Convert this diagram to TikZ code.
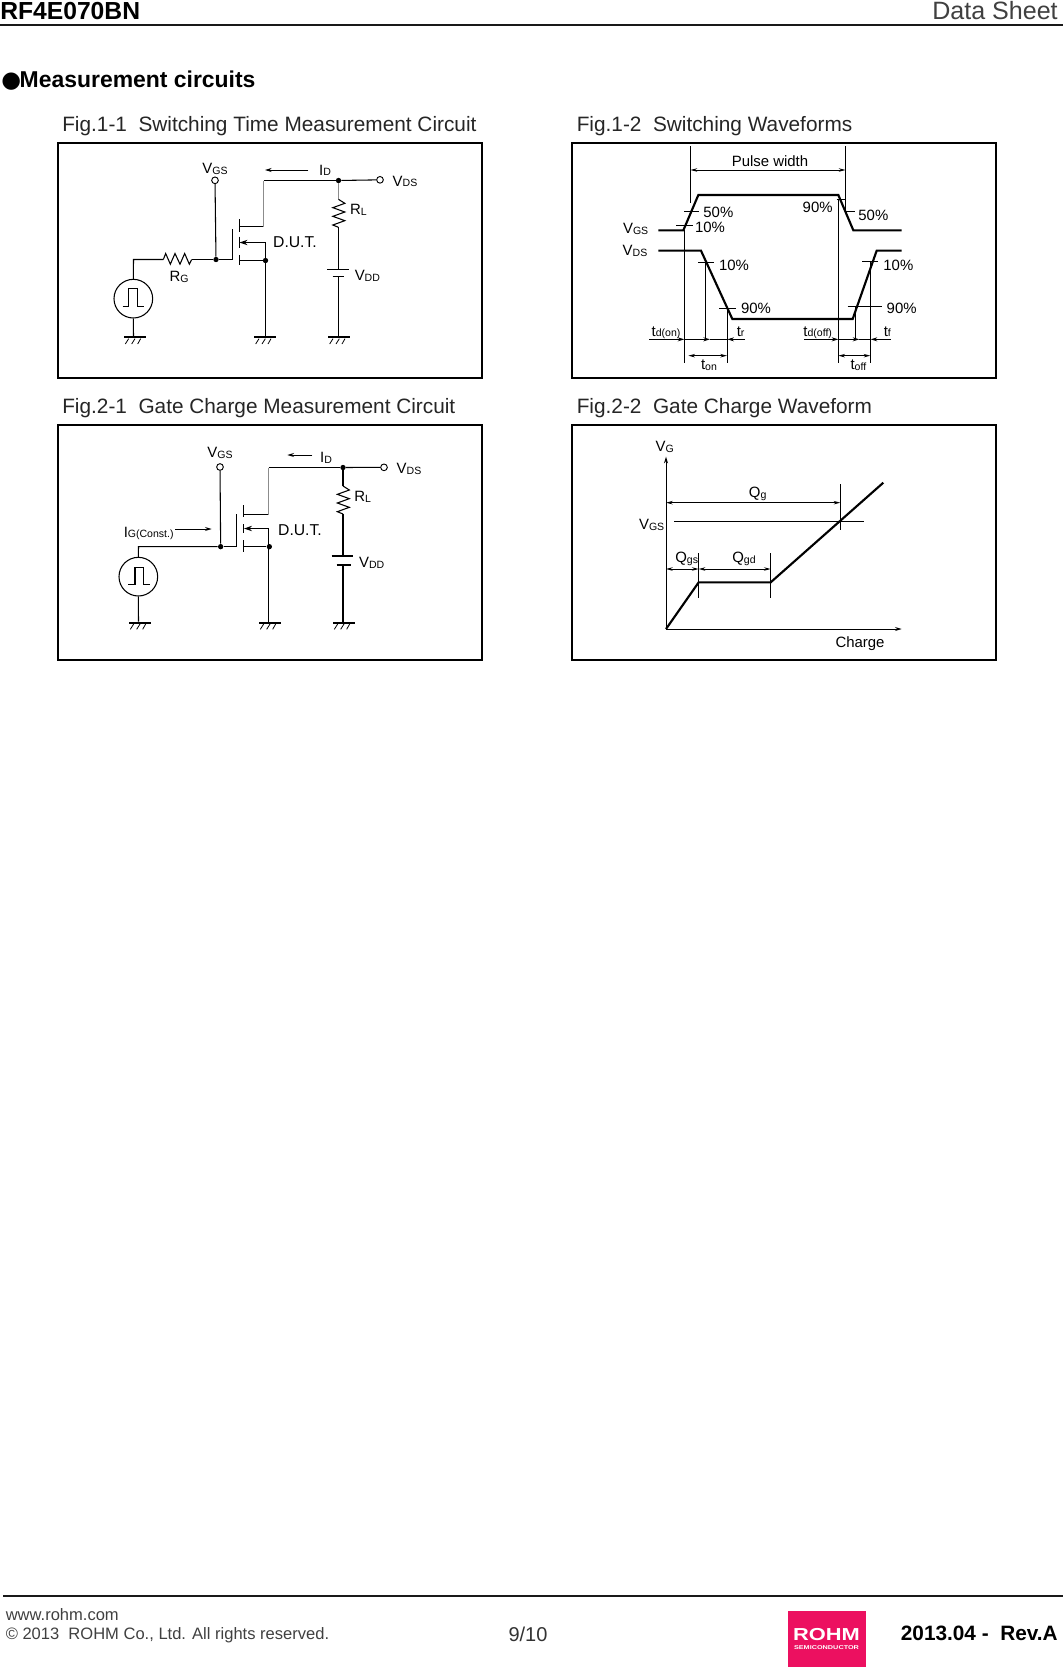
\documentclass[tikz,border=0pt]{standalone}
\usepackage{fontspec}
\setmainfont{Liberation Sans}
\newfontfamily\dejavu{DejaVu Sans}
\usetikzlibrary{arrows.meta}
\definecolor{rohmred}{HTML}{EC1060}
\newcommand\sbs[2]{#1{\fontsize{7.9}{9}\selectfont\raisebox{-0.3pt}{#2}}}
\tikzset{
  lab/.style={font=\fontsize{11.2}{12}\selectfont, inner sep=0pt, text height=8.1pt, text depth=0pt, anchor=center, yshift=0.6pt},
  txt/.style={inner sep=0pt, anchor=base west},
  frame/.style={draw=black, line width=1.5pt, outer sep=0pt, inner sep=0pt, minimum width=318pt, minimum height=176.25pt, anchor=north west},
  wire/.style={line width=0.8pt, line join=miter},
  greywire/.style={line width=0.8pt, draw=black!45},
  wave/.style={line width=1.6pt, line join=miter},
  term/.style={circle, draw, fill=white, line width=0.7pt, inner sep=0pt, minimum size=5pt},
  dot/.style={circle, fill=black, inner sep=0pt, minimum size=4pt},
  srcc/.style={circle, draw, line width=0.8pt, inner sep=0pt, minimum size=29pt},
  harr/.style={line width=0.7pt, -{Stealth[length=5pt,width=3pt]}},
  dbl/.style={line width=0.7pt, {Stealth[length=5pt,width=2.6pt]}-{Stealth[length=5pt,width=2.6pt]}},
  gnd/.pic={
    \draw[line width=1.7pt] (0,0) -- (66,0);
    \draw[line width=0.6pt] (4,20) -- (14,4) (23,20) -- (33,4) (41,20) -- (50,4);
  }
}
\begin{document}
\begin{tikzpicture}[x=0.75pt,y=-0.75pt]
\path[fill=white] (0,0) rectangle (1063,1667);
\useasboundingbox (0,0) rectangle (1063,1667);

% header
\node[txt,font=\fontsize{18.5}{20}\bfseries\selectfont] (hname) at (0,19.5) {RF4E070BN};
\node[inner sep=0pt,anchor=base east,font=\fontsize{18.8}{20}\selectfont,text=black!75] (hsheet) at (1058,19.5) {Data Sheet};
\coordinate (hl) at (0,24.5); \coordinate (hr) at (1063,24.5);
\draw[line width=1.5pt,black!90] (hl) -- (hr);
\node[txt,font=\fontsize{17.2}{20}\bfseries\selectfont] (hsec) at (1,87) {{\dejavu\fontsize{17}{20}\selectfont ●}\hspace{-1pt}Measurement circuits};

% titles
\node[txt,font=\fontsize{15.6}{18}\selectfont,text=black!85] (t11) at (62,131) {Fig.1-1\ \ Switching Time Measurement Circuit};
\node[txt,font=\fontsize{15.6}{18}\selectfont,text=black!85] (t12) at (576.5,131) {Fig.1-2\ \ Switching Waveforms};
\node[txt,font=\fontsize{15.6}{18}\selectfont,text=black!85] (t21) at (62,413) {Fig.2-1\ \ Gate Charge Measurement Circuit};
\node[txt,font=\fontsize{15.6}{18}\selectfont,text=black!85] (t22) at (576.5,413) {Fig.2-2\ \ Gate Charge Waveform};

% frames
\node[frame] (f11) at (58,143) {};
\node[frame] (f12) at (572,143) {};
\node[frame] (f21) at (58,425) {};
\node[frame] (f22) at (572,425) {};

% ---------- Fig 1-1 ----------
\begin{scope}[shift={(50,140)},x=0.25pt,y=-0.25pt]
\node[term] (aVGS) at (495,121) {};
\node[term] (aVDS) at (990,119.5) {};
\node[dot] (aGd) at (498,358.5) {};
\node[dot] (aDd) at (865.5,121.5) {};
\node[dot] (aSd) at (646.5,361.5) {};
\node[srcc] (aSrc) at (250,476) {};
\coordinate (aGb1) at (547.5,268); \coordinate (aGb2) at (547.5,358.5);
\coordinate (aCh1) at (568.5,238); \coordinate (aCh2) at (568.5,275);
\coordinate (aCh3) at (568.5,290); \coordinate (aCh4) at (568.5,325);
\coordinate (aCh5) at (568.5,345); \coordinate (aCh6) at (568.5,375);
\coordinate (aDr) at (568.5,259.5); \coordinate (aDc1) at (640.5,259.5); \coordinate (aDc2) at (640.5,121.5);
\coordinate (aSm) at (568.5,307.5); \coordinate (aSt) at (646.5,307.5); \coordinate (aSl) at (568.5,361.5);
\coordinate (aW1) at (250.5,358.5); \coordinate (aRg1) at (340,358.5); \coordinate (aRg2) at (425,358.5);
\coordinate (aRl1) at (865.5,178); \coordinate (aRl2) at (865.5,262);
\coordinate (aB1) at (865.5,388); \coordinate (aB2) at (865.5,410);
\coordinate (aB1l) at (832,388); \coordinate (aB1r) at (898,388);
\coordinate (aB2l) at (848,410); \coordinate (aB2r) at (882,410);
\coordinate (aGa) at (250.5,590); \coordinate (aGb) at (646.5,590); \coordinate (aGc) at (865.5,590);
\coordinate (aIa) at (775,90); \coordinate (aIb) at (645,90);
\pic at (222,592) {gnd}; \pic at (613,592) {gnd}; \pic at (835,592) {gnd};
\draw[wire] (aVGS) -- (aGd);
\draw[wire] (aSrc.north) -- (aW1) -- (aRg1);
\draw[wire] (aRg1) -- ++(7,-18) -- ++(14,32) -- ++(14,-32) -- ++(15,32) -- ++(14,-32) -- ++(14,32) -- (aRg2);
\draw[wire] (aRg2) -- (aGd);
\draw[wire] (aGd) -- (aGb2) -- (aGb1);
\draw[wire] (aCh1) -- (aCh2) (aCh3) -- (aCh4) (aCh5) -- (aCh6);
\draw[wire] (aDr) -- (aDc1);
\draw[greywire] (aDc1) -- (aDc2);
\draw[wire] (aDc2) -- (aDd);
\draw[wire] (aDd) -- (aVDS);
\draw[greywire] (aDd) -- (aRl1);
\draw[wire] (aRl1) -- ++(19,12) -- ++(-36,13) -- ++(36,13) -- ++(-36,13) -- ++(36,13) -- ++(-36,13) -- (aRl2);
\draw[wire] (aRl2) -- (aB1);
\draw[wire] (aB1l) -- (aB1r) (aB2l) -- (aB2r);
\draw[wire] (aB2) -- (aGc);
\draw[wire,-{Stealth[length=6pt,width=4pt]}] (aSt) -- (aSm);
\draw[wire] (aSl) -- (aSd);
\draw[wire] (aSt) -- (aSd);
\draw[wire] (aSd) -- (aGb);
\draw[wire] (aSrc.south) -- (aGa);
\draw[wire] (218,500) -- (235,500) -- (235,446) -- (262,446) -- (262,500) -- (283,500);
\draw[harr] (aIa) -- (aIb);
\node[lab] (aL1) at (495,87) {\sbs{V}{GS}};
\node[lab] (aL2) at (825,92) {\sbs{I}{D}};
\node[lab] (aL3) at (1065,125) {\sbs{V}{DS}};
\node[lab] (aL4) at (925,210) {\sbs{R}{L}};
\node[lab] (aL5) at (387,412) {\sbs{R}{G}};
\node[lab,font=\fontsize{11.8}{12}\selectfont] (aL6) at (735,310) {D.U.T.};
\node[lab] (aL7) at (952,409) {\sbs{V}{DD}};
\end{scope}

% ---------- Fig 2-1 ----------
\begin{scope}[shift={(50,420)},x=0.25pt,y=-0.25pt]
\node[term] (cVGS) at (510,141) {};
\node[term] (cVDS) at (1002,142) {};
\node[dot] (cGd) at (512,380) {};
\node[dot] (cDd) at (879,142.5) {};
\node[dot] (cSd) at (658,380) {};
\node[srcc] (cSrc) at (265,470) {};
\coordinate (cGb1) at (559.5,283); \coordinate (cGb2) at (559.5,380);
\coordinate (cCh1) at (580.5,256); \coordinate (cCh2) at (580.5,292);
\coordinate (cCh3) at (580.5,312); \coordinate (cCh4) at (580.5,340);
\coordinate (cCh5) at (580.5,360); \coordinate (cCh6) at (580.5,395);
\coordinate (cDr) at (580.5,283.5); \coordinate (cDc1) at (655.5,283.5); \coordinate (cDc2) at (655.5,142.5);
\coordinate (cSm) at (582,325.5); \coordinate (cSt) at (655.5,325.5); \coordinate (cSl) at (580.5,380);
\coordinate (cW1) at (265.5,380);
\coordinate (cRl1) at (879,198); \coordinate (cRl2) at (879,282);
\coordinate (cB1) at (879,408); \coordinate (cB2) at (879,436);
\coordinate (cB1l) at (845,408); \coordinate (cB1r) at (910,408);
\coordinate (cB2l) at (860,436); \coordinate (cB2r) at (902,436);
\coordinate (cGa) at (265.5,605); \coordinate (cGb) at (655.5,605); \coordinate (cGc) at (879,605);
\coordinate (cIa) at (787,105); \coordinate (cIb) at (712,105);
\coordinate (cJa) at (375,327); \coordinate (cJb) at (485,327);
\pic at (237,608) {gnd}; \pic at (627,608) {gnd}; \pic at (849,608) {gnd};
\draw[wire] (cVGS) -- (cGd);
\draw[wire] (cSrc.north) -- (cW1) -- (cGd);
\draw[wire] (cGd) -- (cGb2) -- (cGb1);
\draw[wire] (cCh1) -- (cCh2) (cCh3) -- (cCh4);
\draw[line width=1.2pt] (cCh5) -- (cCh6);
\draw[wire] (cDr) -- (cDc1);
\draw[greywire] (cDc1) -- (cDc2);
\draw[wire] (cDc2) -- (cDd);
\draw[wire] (cDd) -- (cVDS);
\draw[wire] (cDd) -- (cRl1);
\draw[wire] (cRl1) -- ++(19,12) -- ++(-36,13) -- ++(36,13) -- ++(-36,13) -- ++(36,13) -- ++(-36,13) -- (cRl2);
\draw[wire] (cRl2) -- (cB1);
\draw[wire] (cB1l) -- (cB1r);
\draw[line width=1.3pt] (cB2l) -- (cB2r);
\draw[wire] (cB2) -- (cGc);
\draw[wire,-{Stealth[length=6pt,width=4pt]}] (cSt) -- (cSm);
\draw[wire] (cSl) -- (cSd);
\draw[wire] (cSt) -- (cGb);
\draw[wire] (cSrc.south) -- (cGa);
\draw[wire] (235,493) -- (255,493) -- (255,443) -- (280,443) -- (280,493) -- (300,493);
\draw[harr] (cIa) -- (cIb);
\draw[harr] (cJa) -- (cJb);
\node[lab] (cL1) at (510,100) {\sbs{V}{GS}};
\node[lab] (cL2) at (828,115) {\sbs{I}{D}};
\node[lab] (cL3) at (1077,147) {\sbs{V}{DS}};
\node[lab] (cL4) at (938,232) {\sbs{R}{L}};
\node[lab] (cL5) at (296,338) {\sbs{I}{G(Const.)}};
\node[lab,font=\fontsize{11.8}{12}\selectfont] (cL6) at (750,332) {D.U.T.};
\node[lab] (cL7) at (965,429) {\sbs{V}{DD}};
\end{scope}

% ---------- Fig 1-2 ----------
\begin{scope}[shift={(570,140)},x=0.25pt,y=-0.25pt]
\draw[wave] (265,271) -- (340,271) -- (385,165) -- (805,165) -- (850,271) -- (995,271);
\draw[wave] (265,332) -- (393,332) -- (487,537) -- (848,537) -- (920,332) -- (995,332);
\begin{scope}[line width=0.7pt]
\draw (361.5,18) -- (361.5,190);
\draw (826.5,18) -- (826.5,215);
\draw (343.5,270) -- (343.5,668);
\draw (805.5,178) -- (805.5,670);
\draw (343,215) -- (386,215);
\draw (318,255) -- (368,255);
\draw (800,177) -- (828,177);
\draw (826,215) -- (855,215);
\draw (385,367) -- (432,367);
\draw (406.5,367) -- (406.5,600);
\draw (447,505) -- (497,505);
\draw (472.5,505) -- (472.5,668);
\draw (833,500) -- (935,500);
\draw (856.5,500) -- (856.5,600);
\draw (877,365) -- (925,365);
\draw (901.5,365) -- (901.5,668);
\end{scope}
\draw[dbl] (361.5,90) -- (826.5,90);
\draw[harr] (238,598) -- (343,598);
\draw[harr] (343,598) -- (420,598);
\draw[line width=0.7pt] (420,598) -- (471,598);
\draw[harr] (525,598) -- (472,598);
\draw[harr] (702,598) -- (805,598);
\draw[harr] (805,598) -- (868,598);
\draw[line width=0.7pt] (868,598) -- (901,598);
\draw[harr] (962,598) -- (902,598);
\draw[dbl] (355,647) -- (471,647);
\draw[dbl] (805,647) -- (901,647);
\node[lab] (bL1) at (600,65) {Pulse width};
\node[lab] (bL2) at (445,220) {50\%};
\node[lab] (bL3) at (420,265) {10\%};
\node[lab] (bL4) at (197,268) {\sbs{V}{GS}};
\node[lab] (bL5) at (195,333) {\sbs{V}{DS}};
\node[lab] (bL6) at (492,378) {10\%};
\node[lab] (bL7) at (558,508) {90\%};
\node[lab] (bL8) at (288,575) {\sbs{t}{d(on)}};
\node[lab] (bL9) at (512,575) {\sbs{t}{r}};
\node[lab] (bL10) at (417,675) {\sbs{t}{on}};
\node[lab] (bL11) at (743,575) {\sbs{t}{d(off)}};
\node[lab] (bL12) at (952,575) {\sbs{t}{f}};
\node[lab] (bL13) at (865,675) {\sbs{t}{off}};
\node[lab] (bL14) at (743,203) {90\%};
\node[lab] (bL15) at (910,228) {50\%};
\node[lab] (bL16) at (985,378) {10\%};
\node[lab] (bL17) at (995,508) {90\%};
\end{scope}

% ---------- Fig 2-2 ----------
\begin{scope}[shift={(570,420)},x=0.25pt,y=-0.25pt]
\draw[harr] (288,627) -- (288,110);
\draw[harr] (288,627) -- (995,627);
\draw[wave] (288,627) -- (386,487) -- (602,487) -- (940,188);
\draw[dbl] (288,248) -- (811,248);
\draw[line width=0.7pt] (811,192) -- (811,330);
\draw[line width=0.7pt] (312,303) -- (882,303);
\draw[dbl] (288,447) -- (386,447);
\draw[dbl] (386,447) -- (602,447);
\draw[line width=0.7pt] (386,400) -- (386,533);
\draw[line width=0.7pt] (602,400) -- (602,533);
\node[lab] (dL1) at (284,82) {\sbs{V}{G}};
\node[lab] (dL2) at (563,219) {\sbs{Q}{g}};
\node[lab] (dL3) at (245,316) {\sbs{V}{GS}};
\node[lab] (dL4) at (350,415) {\sbs{Q}{gs}};
\node[lab] (dL5) at (522,415) {\sbs{Q}{gd}};
\node[lab] (dL6) at (870,670) {Charge};
\end{scope}

% footer
\coordinate (fl) at (3,1596); \coordinate (fr) at (1063,1596);
\draw[line width=1.5pt,black!90] (fl) -- (fr);
\node[txt,font=\fontsize{12.4}{14}\selectfont,text=black!75] (f1) at (5.5,1620) {www.rohm.com};
\node[txt,font=\fontsize{12.4}{14}\selectfont,text=black!75] (f2) at (5.5,1639) {© 2013\ \ ROHM Co., Ltd. All rights reserved.};
\node[inner sep=0pt,anchor=base,font=\fontsize{15}{17}\selectfont,text=black!80] (f3) at (528,1641) {9/10};
\node[fill=rohmred,inner sep=0pt,minimum width=58.5pt,minimum height=42pt,anchor=north west,outer sep=0pt] (logo) at (787.5,1611) {};
\node[inner sep=0pt,xscale=1.26,font=\fontsize{13}{14}\bfseries\selectfont,text=white] (lg1) at (826.5,1635) {ROHM};
\node[inner sep=0pt,xscale=1.3,font=\fontsize{4.2}{5}\bfseries\selectfont,text=white] (lg2) at (826.5,1648) {SEMICONDUCTOR};
\node[inner sep=0pt,anchor=base east,font=\fontsize{15.6}{17}\bfseries\selectfont] (f4) at (1058,1640) {2013.04 -\ \ Rev.A};
\end{tikzpicture}
\end{document}
